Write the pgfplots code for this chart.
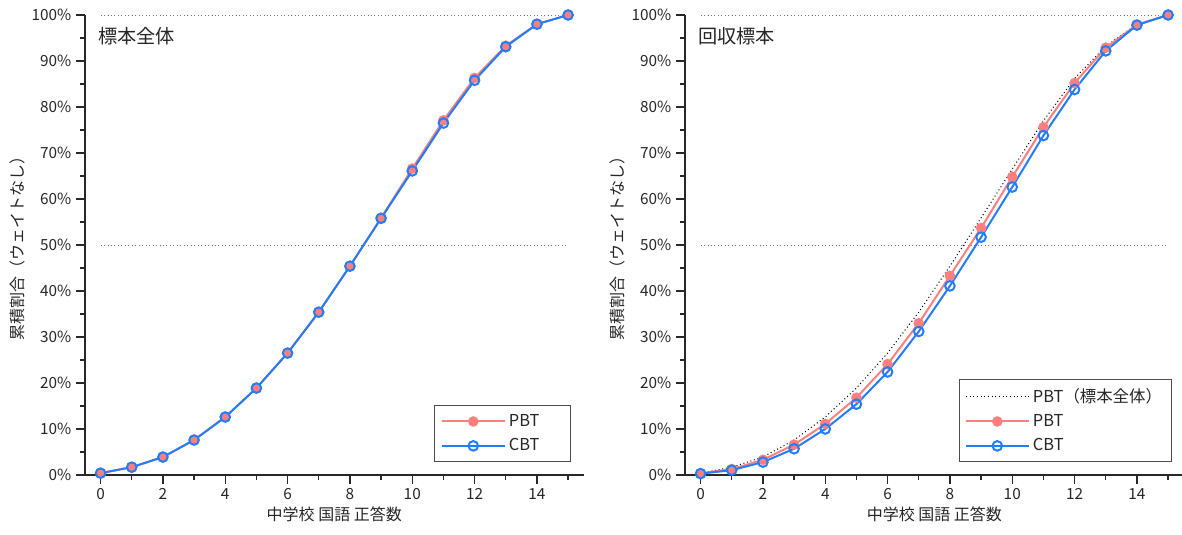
\documentclass[border=0pt]{standalone}
\usepackage{fontspec}
\setmainfont{Noto Sans CJK JP}
\usepackage{pgfplots}
\pgfplotsset{compat=1.18}
\definecolor{pbtred}{RGB}{255,127,127}
\definecolor{cbtblue}{RGB}{35,125,250}
\definecolor{spine}{RGB}{40,40,40}

\pgfplotstableread{
x all pbt cbt
0 0.4 0.35 0.3
1 1.7 1.3 1.05
2 3.9 3.3 2.8
3 7.6 6.6 5.7
4 12.6 11.1 10.0
5 18.9 16.8 15.4
6 26.5 24.1 22.4
7 35.4 33.0 31.2
8 45.4 43.3 41.1
9 55.9 53.7 51.7
10 66.5 64.8 62.6
11 77.0 75.6 73.8
12 86.2 85.2 83.8
13 93.2 92.9 92.2
14 98.0 97.9 97.8
15 100 100 100
}\rec

\pgfplotstableread{
x pbt cbt
0 0.4 0.4
1 1.7 1.7
2 3.9 3.9
3 7.6 7.6
4 12.6 12.6
5 18.9 18.9
6 26.5 26.5
7 35.4 35.4
8 45.4 45.4
9 55.9 55.8
10 66.6 66.1
11 77.1 76.5
12 86.3 85.8
13 93.3 93.1
14 98.0 98.0
15 100 100
}\all

\pgfplotsset{
  mystyle/.style={
    scale only axis, width=374pt, height=345pt,
    xmin=-0.5, xmax=15.5, ymin=0, ymax=100,
    axis x line*=bottom, axis y line*=left,
    axis line style={spine, line width=0.9pt},
    tick style={spine, line width=0.9pt},
    tick align=outside,
    major tick length=6.75pt, minor tick length=3.75pt,
    xtick={0,2,...,14}, minor xtick={1,3,...,15},
    ytick={0,10,...,100}, minor ytick={5,15,...,95},
    yticklabel={\pgfmathprintnumber{\tick}\%},
    /pgf/number format/assume math mode=true,
    ticklabel style={font=\fontsize{11.5}{13}\selectfont, text=black!85},
    xlabel={中学校 国語 正答数},
    ylabel={累積割合（ウェイトなし）},
    label style={font=\fontsize{12}{14}\selectfont, text=black!85},
    xlabel style={yshift=2pt},
    ylabel style={yshift=-2pt},
    clip=false,
    legend cell align=left,
    legend style={draw=black!70, line width=0.7pt, fill=white,
      font=\fontsize{12.3}{14}\selectfont, text=black!85,
      inner xsep=4.5pt, inner ysep=4pt, row sep=2.7pt,
      nodes={inner sep=2.5pt}},
    legend image code/.code={\draw[mark repeat=2,mark phase=2,##1] plot coordinates {(0pt,0pt) (23.5pt,0pt) (47pt,0pt)};},
  },
  redline/.style={pbtred, line width=1.5pt, mark=*, mark size=3.9pt, mark options={pbtred, fill=pbtred, line width=0.1pt}},
  blueline/.style={cbtblue, line width=1.5pt, mark=o, mark size=3.6pt, mark options={cbtblue, line width=1.5pt}},
}

\begin{document}
\begin{tikzpicture}
\useasboundingbox (-63.75pt,-45pt) rectangle (822.75pt,356.25pt);
\begin{axis}[mystyle, legend style={at={(rel axis cs:0.974,0.028)}, anchor=south east}]
\addplot[black!55, dotted, line width=0.6pt, forget plot] coordinates {(0,100) (15,100)};
\addplot[black!55, dotted, line width=0.6pt, forget plot] coordinates {(0,50) (15,50)};
\addplot[redline, forget plot] table[x=x, y=pbt] {\all};
\addplot[blueline, forget plot] table[x=x, y=cbt] {\all};
\addlegendimage{redline}
\addlegendentry{PBT\hspace*{16pt}}
\addlegendimage{blueline, mark options={cbtblue, fill=white, line width=1.5pt}}
\addlegendentry{CBT\hspace*{16pt}}
\node[anchor=north west, inner sep=0pt, font=\fontsize{14.4}{16}\selectfont, text=black!85] at ([xshift=9.75pt,yshift=-9pt]rel axis cs:0,1) {標本全体};
\end{axis}
\begin{axis}[mystyle, xshift=450pt, legend style={at={(rel axis cs:0.976,0.028)}, anchor=south east}]
\addplot[black!55, dotted, line width=0.6pt, forget plot] coordinates {(0,100) (15,100)};
\addplot[black!55, dotted, line width=0.6pt, forget plot] coordinates {(0,50) (15,50)};
\addplot[black, dotted, line width=0.75pt, forget plot] table[x=x, y=all] {\rec};
\addplot[redline, forget plot] table[x=x, y=pbt] {\rec};
\addplot[blueline, forget plot] table[x=x, y=cbt] {\rec};
\addlegendimage{black, dotted, line width=0.75pt}
\addlegendentry{PBT（標本全体）}
\addlegendimage{redline}
\addlegendentry{PBT}
\addlegendimage{blueline, mark options={cbtblue, fill=white, line width=1.5pt}}
\addlegendentry{CBT}
\node[anchor=north west, inner sep=0pt, font=\fontsize{14.4}{16}\selectfont, text=black!85] at ([xshift=9.75pt,yshift=-9pt]rel axis cs:0,1) {回収標本};
\end{axis}
\end{tikzpicture}
\end{document}
